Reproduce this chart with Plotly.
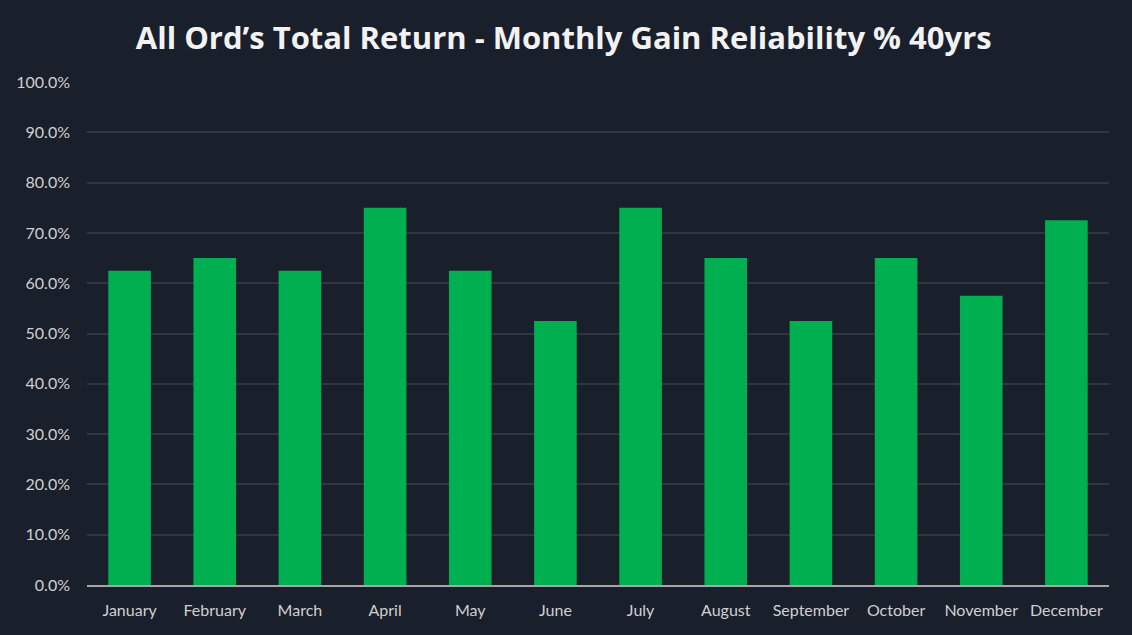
import plotly.graph_objects as go

months = ["January", "February", "March", "April", "May", "June", "July",
          "August", "September", "October", "November", "December"]
reliability = [62.5, 65.0, 62.5, 75.0, 62.5, 52.5, 75.0, 65.0, 52.5, 65.0, 57.5, 72.5]
y_ticks = [0, 10, 20, 30, 40, 50, 60, 70, 80, 90, 100]
y_tick_labels = [f"{v:.1f}%" for v in y_ticks]
title_text = "All Ord’s Total Return - Monthly Gain Reliability % 40yrs"

fig = go.Figure(go.Bar(
    x=months, y=reliability,
    marker=dict(color="#00b050", line=dict(width=0)),
    width=0.5,
))

fig.update_layout(
    width=1132, height=635,
    paper_bgcolor="#1a1f2c", plot_bgcolor="#1a1f2c",
    margin=dict(l=87, r=23, t=82, b=50),
    showlegend=False,
    title=dict(text=title_text, x=0.498, xanchor="center", y=0.94, yanchor="middle",
               font=dict(family="Open Sans", size=31, color="#f2f2f2", weight="bold")),
    font=dict(family="Lato", color="#d0d0d0", size=16),
    xaxis=dict(showgrid=False, showline=True, linecolor="#a6a6a6", linewidth=2,
               ticks="", ticklabelstandoff=10,
               tickfont=dict(size=16, color="#d0d0d0"), fixedrange=True),
    yaxis=dict(range=[0, 100], tickvals=y_ticks, ticktext=y_tick_labels,
               showgrid=True, gridcolor="#30353f", gridwidth=2, zeroline=False,
               ticks="", ticklabelstandoff=16, tickfont=dict(size=16, color="#d0d0d0")),
)

fig.write_html("out.html", config={"displayModeBar": False},
               post_script="document.body.style.margin='0';document.body.style.background='#1a1f2c';")
